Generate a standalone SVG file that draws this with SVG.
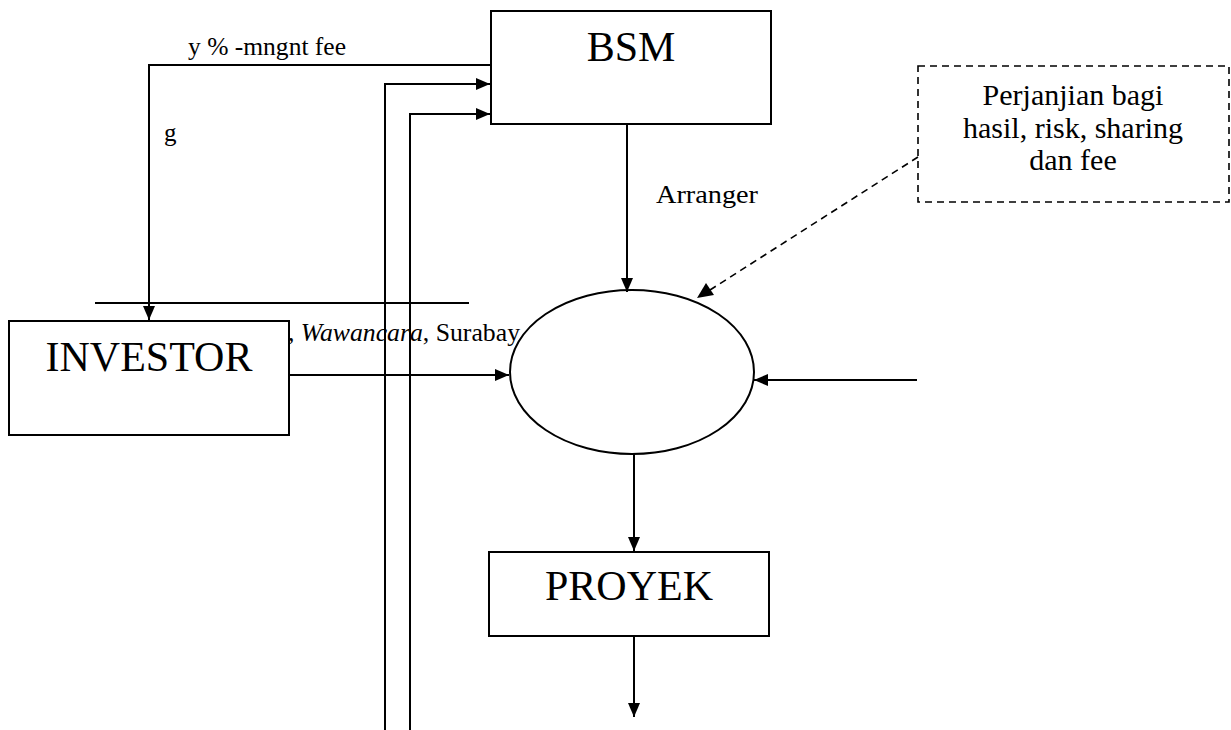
<svg xmlns="http://www.w3.org/2000/svg" width="1231" height="730" viewBox="0 0 1231 730">
<defs>
<marker id="ahl" viewBox="0 0 14 12" refX="14" refY="6" markerWidth="14" markerHeight="12" markerUnits="userSpaceOnUse" orient="auto"><path d="M0,0 L14,6 L0,12 z" fill="#000"/></marker>
</defs>
<style>
.box{fill:#fff;stroke:#000;stroke-width:2}
.big{font-family:"Liberation Serif","Times New Roman",serif;font-size:42px;text-anchor:middle;fill:#000}
.lbl{font-family:"Liberation Serif","Times New Roman",serif;font-size:25px;fill:#000}
.note{font-family:"Liberation Serif","Times New Roman",serif;font-size:30px;text-anchor:middle;fill:#000}
.ln{fill:none;stroke:#000;stroke-width:2}
.arr{fill:none;stroke:#000;stroke-width:2;marker-end:url(#ahl)}
.dash{fill:none;stroke:#000;stroke-width:1.6;stroke-dasharray:7,5}
</style>
<rect width="1231" height="730" fill="#fff"/>
<g id="connectors">
<path class="arr" d="M491,65 H149 V320"/>
<path class="arr" d="M385,730 V84 H490"/>
<path class="arr" d="M410,730 V114 H490"/>
<line class="ln" x1="95" y1="303" x2="469" y2="303"/>
<path class="arr" d="M289,375 H509"/>
<path class="arr" d="M627,124 V292"/>
<path class="arr" d="M917,380 H754"/>
<path class="arr" d="M634,454 V551"/>
<path class="arr" d="M634,636 V717"/>
<path class="dash" d="M918,157 L710,290"/>
<path d="M697,298 L706,283 L714,295 z" fill="#000"/>
</g>
<g id="labels">
<text class="lbl" x="188" y="55" textLength="158" lengthAdjust="spacingAndGlyphs">y % -mngnt fee</text>
<text class="lbl" x="164" y="141">g</text>
<text class="lbl" x="656" y="203" textLength="102" lengthAdjust="spacingAndGlyphs">Arranger</text>
</g>
<g id="bsm">
<rect class="box" x="491" y="11" width="280" height="113"/>
<text class="big" x="631" y="61">BSM</text>
</g>
<g id="investor">
<rect class="box" x="9" y="321" width="280" height="114"/>
<text class="big" x="149" y="371">INVESTOR</text>
</g>
<g id="source-text">
<text class="lbl" x="288" y="341" textLength="232" lengthAdjust="spacingAndGlyphs">, <tspan font-style="italic">Wawancara</tspan>, Surabay</text>
</g>
<g id="center">
<ellipse class="ln" cx="632" cy="372" rx="122" ry="82" fill="none"/>
</g>
<g id="proyek">
<rect class="box" x="489" y="552" width="280" height="84"/>
<text class="big" x="629" y="600">PROYEK</text>
</g>
<g id="note">
<rect class="dash" x="918" y="66" width="311" height="136"/>
<text class="note" x="1073" y="105">Perjanjian bagi</text>
<text class="note" x="1073" y="138">hasil, risk, sharing</text>
<text class="note" x="1073" y="170">dan fee</text>
</g>
</svg>
